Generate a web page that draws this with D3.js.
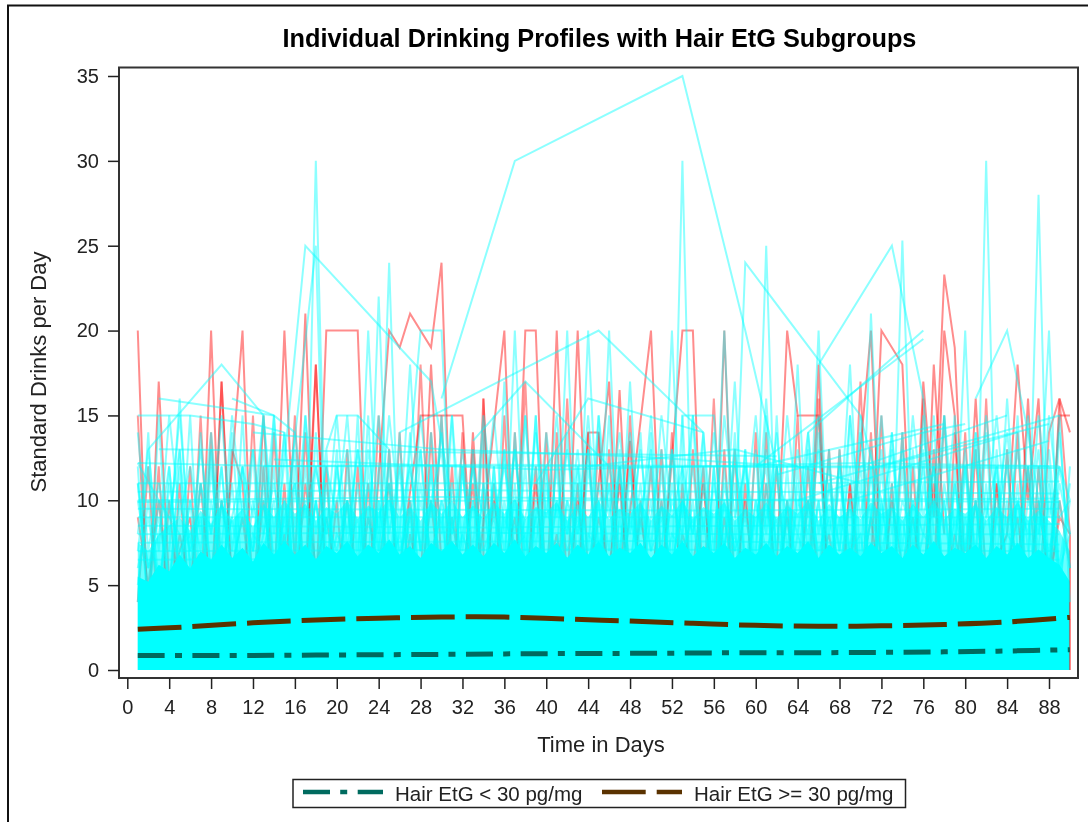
<!DOCTYPE html>
<html>
<head>
<meta charset="utf-8">
<script src="https://cdn.jsdelivr.net/npm/d3@7"></script>
<style>
    html, body { margin: 0; padding: 0; background: #fff; }
    svg { display: block; filter: blur(0.45px); }
    text { font-family: "Liberation Sans", Arial, sans-serif; fill: #222; }
</style>
</head>
<body>
<div id="chart"></div>
<script>
// axis ticks
const xTicks = [0, 4, 8, 12, 16, 20, 24, 28, 32, 36, 40, 44, 48, 52, 56, 60, 64, 68, 72, 76, 80, 84, 88];
const yTicks = [0, 5, 10, 15, 20, 25, 30, 35];

// smoothed group means
const meanDays = [1, 6, 12, 18, 24, 30, 36, 42, 48, 54, 60, 66, 72, 78, 84, 90];
const meanLow = [0.85, 0.85, 0.86, 0.88, 0.9, 0.92, 0.95, 0.97, 0.98, 1.0, 1.02, 1.02, 1.04, 1.07, 1.12, 1.2];
const meanHigh = [2.4, 2.55, 2.78, 2.95, 3.05, 3.12, 3.12, 3.0, 2.88, 2.75, 2.63, 2.58, 2.6, 2.68, 2.83, 3.1];

// top of the fully overplotted cyan mass, day 1 to 90
const solidTop = [
    5.5, 5.2, 6.2, 5.8, 6.8, 6, 7, 6.5, 7.4, 6.6,
    7.2, 6.4, 7.5, 6.8, 7.6, 6.8, 7.4, 6.5, 7.3, 6.9,
    7.6, 6.7, 7.4, 6.9, 7.7, 6.8, 7.3, 6.6, 7.5, 7,
    7.6, 6.8, 7.4, 6.7, 7.5, 6.9, 7.7, 6.7, 7.3, 6.9,
    7.5, 6.6, 7.4, 6.8, 7.6, 6.7, 7.2, 6.9, 7.5, 6.6,
    7.4, 6.8, 7.6, 6.7, 7.3, 6.9, 7.5, 6.6, 7.2, 6.8,
    7.5, 6.7, 7.3, 6.9, 7.6, 6.6, 7.4, 6.8, 7.2, 6.7,
    7.5, 6.9, 7.3, 6.6, 7.4, 6.8, 7.6, 6.7, 7.2, 6.9,
    7.4, 6.6, 7.3, 6.8, 7.5, 6.6, 7.1, 6.6, 6.2, 5.2
];

// upper edge of the nearly filled part above it
const hazeTop = [
    7.5, 7, 8, 8.5, 9, 8.2, 9.4, 8.6, 9.8, 8.8,
    9.5, 8.4, 9.8, 9, 10, 9.2, 9.8, 8.8, 9.6, 9.2,
    10, 8.9, 9.7, 9.3, 10.1, 9, 9.6, 8.8, 9.9, 9.2,
    10, 9, 9.7, 8.9, 9.9, 9.2, 10.1, 8.9, 9.6, 9.3,
    9.9, 8.8, 9.8, 9, 10, 8.9, 9.5, 9.2, 9.9, 8.8,
    9.7, 9.1, 10, 8.9, 9.6, 9.2, 9.9, 8.8, 9.5, 9,
    9.9, 8.9, 9.7, 9.2, 10, 8.8, 9.8, 9, 9.5, 8.9,
    9.9, 9.2, 9.6, 8.8, 9.8, 9, 10, 8.9, 9.5, 9.2,
    9.8, 8.8, 9.6, 9, 9.9, 8.8, 9.4, 8.8, 8.2, 7
];

// red profiles, [day, drinks] pairs read from the tall peaks
const redProfiles = [
    [[1, 20], [2, 2], [3, 17], [4, 5], [6, 9], [7, 3], [8, 20], [9, 4], [11, 20], [12, 3], [13, 15], [14, 4], [15, 20], [16, 6], [17, 21], [18, 4], [19, 20], [22, 20], [23, 3], [25, 20], [26, 19], [27, 21], [29, 19], [30, 24], [31, 5], [33, 3], [36, 20], [37, 4], [38, 20], [39, 20], [40, 3], [41, 20], [42, 4], [43, 20], [44, 5], [46, 17], [47, 4], [50, 20], [51, 5], [53, 20], [54, 20], [55, 3]],
    [[56, 3], [57, 20], [58, 4], [60, 5], [62, 6], [63, 20], [64, 15], [66, 15], [67, 4], [69, 6], [71, 20], [72, 5]],
    [[71, 6], [72, 20], [74, 18], [75, 4], [76, 17], [77, 9], [78, 23.3], [79, 19], [80, 5], [81, 16], [82, 5], [84, 8], [85, 18], [86, 10], [87, 16], [88, 3], [89, 16], [90, 14]],
    [[26, 6], [28, 15], [32, 15], [33, 5]],
    [[28, 5], [29, 18], [30, 6]],
    [[8, 4], [9, 17], [10, 5]],
    [[17, 5], [18, 18], [19, 4]],
    [[43, 5], [44, 14], [45, 14], [46, 4], [47, 16.5], [48, 4]],
    [[47, 5], [48, 13.5], [49, 3]],
    [[65, 4], [66, 18], [67, 3]],
    [[76, 3], [77, 18], [78, 8]],
    [[77, 5], [78, 20], [79, 15], [80, 3]],
    [[85, 5], [86, 16], [87, 4]],
    [[88, 5], [89, 15], [90, 15]],
    [[32, 3], [33, 14], [34, 4], [34, 16], [35, 3]]
];

// red zigzag profiles, one value per day
const redRows = [
    [15, 3, 12, 2, 11, 3, 15, 2, 17, 4,
     3, 15, 2, 14, 4, 15, 3, 18, 4, 10,
     2, 12, 3, 15, 2, 14, 3, 18, 4, 15,
     2, 14, 3, 16, 2, 15, 4, 17, 2, 14,
     3, 16, 4, 14, 3, 13, 2, 15, 4, 12,
     3, 14, 2, 13, 4, 16, 3, 13, 2, 14,
     3, 12, 4, 15, 2, 16, 3, 13, 4, 17,
     2, 15, 3, 14, 2, 16, 4, 15, 3, 14,
     2, 16, 3, 13, 4, 12, 3, 14, 16, 8],
    [4, 12, 2, 10, 3, 12, 2, 14, 3, 13,
     11, 2, 12, 3, 11, 2, 14, 3, 12, 2,
     13, 3, 11, 2, 13, 3, 10, 2, 14, 3,
     12, 2, 13, 3, 11, 2, 14, 4, 12, 2,
     14, 3, 11, 2, 14, 2, 12, 3, 10, 3,
     13, 2, 11, 3, 12, 2, 13, 3, 11, 2,
     14, 3, 10, 2, 12, 4, 13, 2, 11, 3,
     14, 3, 11, 2, 12, 3, 13, 2, 14, 3,
     13, 2, 11, 3, 14, 2, 12, 4, 10, 6],
    [9, 5, 10, 4, 8, 5, 11, 4, 10, 6,
     9, 4, 10, 5, 8, 4, 11, 6, 9, 5,
     10, 4, 9, 6, 11, 4, 8, 5, 10, 4,
     9, 5, 11, 4, 10, 6, 9, 4, 11, 5,
     8, 4, 10, 5, 9, 6, 11, 4, 9, 5,
     10, 4, 8, 6, 11, 4, 9, 5, 10, 4,
     11, 5, 9, 4, 10, 6, 8, 4, 11, 5,
     9, 4, 10, 6, 9, 5, 11, 4, 8, 5,
     10, 4, 11, 6, 9, 4, 10, 5, 9, 8]
];

// red still showing over the mass at the last day
const redLastDay = [[90, 8], [90, 0]];

// cyan profiles, [day, drinks] pairs: long slopes and tall single peaks
const cyanProfiles = [
    [[30, 16], [37, 30], [53, 35], [59, 20], [62, 12], [64, 6]],
    [[52, 5], [53, 30], [54, 4]],
    [[17, 4], [18, 30], [19, 6]],
    [[14, 6], [17, 25], [29, 17], [31, 10]],
    [[15, 8], [18, 25], [19, 4]],
    [[24, 6], [25, 24], [26, 5]],
    [[23, 5], [24, 22], [25, 6]],
    [[81, 4], [82, 30], [83, 5]],
    [[86, 5], [87, 28], [88, 4]],
    [[58, 8], [59, 24], [70, 15], [72, 10]],
    [[60, 6], [61, 25], [62, 5]],
    [[66, 18], [73, 25], [76, 16], [77, 8]],
    [[73, 5], [74, 25.3], [75, 7]],
    [[65, 14], [76, 20]],
    [[60, 12], [76, 19.5]],
    [[81, 16], [84, 20], [86, 14], [88, 6]],
    [[87, 8], [88, 20], [89, 4]],
    [[79, 6], [80, 20], [81, 4]],
    [[70, 5], [71, 21], [72, 7]],
    [[65, 6], [66, 20], [67, 5]],
    [[63, 5], [64, 18], [65, 6]],
    [[26, 14], [45, 20], [55, 14]],
    [[33, 13.5], [38, 17], [46, 12]],
    [[39, 11], [44, 16], [55, 14]],
    [[26, 6], [28, 20], [30, 20], [31, 6]],
    [[36, 5], [37, 20], [38, 6], [39, 15], [40, 5]],
    [[41, 6], [42, 20], [43, 5], [44, 20], [45, 7]],
    [[45, 5], [46, 20], [47, 6]],
    [[51, 6], [52, 20], [53, 5], [53, 15], [56, 15], [57, 6]],
    [[22, 6], [23, 20], [24, 7]],
    [[26, 8], [27, 18], [28, 7]],
    [[56, 6], [57, 20], [58, 5]],
    [[57, 7], [58, 17], [59, 6]],
    [[60, 7], [61, 16], [62, 6]],
    [[35, 5], [36, 17], [37, 6]],
    [[47, 6], [48, 17], [49, 6]],
    [[68, 8], [69, 18], [70, 6]],
    [[75, 6], [76, 15], [77, 6]],
    [[83, 6], [84, 16], [85, 7]],
    [[88, 6], [89, 15], [90, 4]],
    [[4, 7], [5, 16], [6, 6]],
    [[12, 7], [13, 15], [14, 6]],
    [[2, 13], [9, 18], [13, 15]],
    [[3, 16], [14, 15], [16, 14]],
    [[10, 16], [14, 15]],
    [[1, 15], [6, 15], [12, 14.5], [15, 14]],
    [[19, 13], [20, 15], [22, 15], [25, 13]],
    [[1, 12.2], [3, 10], [5, 8]],
    [[1, 10], [30, 10.2], [60, 10], [89, 9.9]],
    [[1, 9.9], [45, 10], [89, 10.1]],
    [[1, 12.2], [15, 12], [40, 12], [89, 11.9]],
    [[13, 12], [35, 12.1], [62, 12], [88, 12]],
    [[14, 12.4], [40, 11.8], [70, 12.2], [89, 12]],
    [[3, 13], [34, 12.8], [62, 12.6]],
    [[12, 14], [30, 13], [48, 12.6], [64, 12]],
    [[66, 11], [89, 15]],
    [[70, 12], [84, 15]],
    [[72, 12], [88, 14.5]],
    [[62, 11.5], [76, 14], [80, 14.5]],
    [[60, 12], [78, 14.5]],
    [[64, 10], [85, 14]],
    [[69, 10], [88, 13.5]],
    [[44, 12], [58, 13], [70, 11]],
    [[1, 8], [30, 8.1], [60, 8], [89, 8]],
    [[1, 9], [40, 9], [89, 9]],
    [[1, 7], [45, 7.1], [89, 7]],
    [[1, 7.5], [50, 7.6], [89, 7.4]],
    [[1, 8.5], [35, 8.4], [89, 8.6]],
    [[1, 9.5], [55, 9.4], [89, 9.5]],
    [[1, 6.5], [40, 6.6], [89, 6.5]],
    [[1, 10.5], [30, 10.6], [89, 10.4]],
    [[1, 11], [60, 11], [89, 11.1]]
];

// cyan zigzag profiles, one value per day
const cyanRows = [
    [12, 3, 15, 4, 13, 3, 14, 5, 12, 4,
     15, 3, 12, 4, 14, 3, 15, 5, 13, 3,
     12, 4, 15, 3, 13, 5, 14, 3, 12, 4,
     15, 3, 13, 4, 12, 3, 14, 5, 15, 3,
     13, 4, 12, 3, 15, 4, 13, 5, 14, 3,
     12, 4, 15, 3, 14, 4, 12, 5, 13, 3,
     15, 4, 12, 3, 14, 5, 13, 3, 15, 4,
     12, 3, 14, 5, 13, 4, 15, 3, 12, 4,
     14, 3, 13, 5, 15, 3, 12, 4, 14, 6],
    [4, 14, 3, 12, 5, 15, 4, 13, 3, 14,
     5, 13, 3, 15, 4, 12, 3, 14, 5, 13,
     4, 15, 3, 12, 5, 14, 3, 13, 4, 15,
     3, 12, 5, 14, 4, 13, 3, 15, 5, 12,
     3, 14, 4, 13, 5, 15, 3, 12, 4, 14,
     3, 13, 5, 15, 4, 12, 3, 14, 5, 13,
     3, 15, 4, 12, 5, 14, 3, 13, 4, 15,
     3, 12, 5, 14, 4, 13, 3, 15, 5, 12,
     3, 14, 4, 13, 3, 15, 5, 12, 4, 12],
    [11, 4, 10, 5, 12, 3, 11, 6, 10, 4,
     12, 5, 11, 3, 10, 6, 12, 4, 11, 5,
     10, 3, 12, 6, 11, 4, 10, 5, 12, 3,
     11, 6, 10, 4, 12, 5, 11, 3, 10, 6,
     12, 4, 11, 5, 10, 3, 12, 6, 11, 4,
     10, 5, 12, 3, 11, 6, 10, 4, 12, 5,
     11, 3, 10, 6, 12, 4, 11, 5, 10, 3,
     12, 6, 11, 4, 10, 5, 12, 3, 11, 6,
     10, 4, 12, 5, 11, 3, 10, 6, 12, 8],
    [5, 10, 4, 11, 6, 10, 3, 12, 5, 11,
     4, 10, 6, 12, 3, 11, 5, 10, 4, 12,
     6, 11, 3, 10, 5, 12, 4, 11, 6, 10,
     3, 12, 5, 11, 4, 10, 6, 12, 3, 11,
     5, 10, 4, 12, 6, 11, 3, 10, 5, 12,
     4, 11, 6, 10, 3, 12, 5, 11, 4, 10,
     6, 12, 3, 11, 5, 10, 4, 12, 6, 11,
     3, 10, 5, 12, 4, 11, 6, 10, 3, 12,
     5, 11, 4, 10, 6, 12, 3, 11, 5, 10],
    [10, 6, 9, 5, 10, 7, 9, 4, 10, 6,
     9, 7, 10, 5, 9, 6, 10, 4, 9, 7,
     10, 5, 9, 6, 10, 7, 9, 4, 10, 6,
     9, 5, 10, 7, 9, 6, 10, 4, 9, 5,
     10, 7, 9, 6, 10, 4, 9, 5, 10, 7,
     9, 6, 10, 5, 9, 4, 10, 7, 9, 6,
     10, 5, 9, 4, 10, 7, 9, 6, 10, 5,
     9, 7, 10, 4, 9, 6, 10, 5, 9, 7,
     10, 4, 9, 6, 10, 5, 9, 7, 10, 6],
    [6, 9, 5, 10, 7, 8, 4, 10, 6, 9,
     5, 8, 7, 10, 4, 9, 6, 10, 5, 8,
     7, 9, 4, 10, 6, 8, 5, 10, 7, 9,
     4, 8, 6, 10, 5, 9, 7, 8, 4, 10,
     6, 9, 5, 8, 7, 10, 4, 9, 6, 10,
     5, 8, 7, 9, 4, 10, 6, 8, 5, 10,
     7, 9, 4, 8, 6, 10, 5, 9, 7, 8,
     4, 10, 6, 9, 5, 8, 7, 10, 4, 9,
     6, 10, 5, 8, 7, 9, 4, 10, 6, 8],
    [11, 6, 8, 12, 5, 10, 7, 13, 6, 9,
     12, 5, 8, 11, 7, 13, 5, 10, 6, 12,
     8, 13, 6, 9, 11, 5, 12, 7, 10, 13,
     6, 8, 12, 5, 11, 7, 13, 6, 9, 12,
     5, 10, 8, 13, 6, 11, 7, 12, 5, 9,
     13, 6, 10, 8, 12, 5, 11, 7, 13, 6,
     9, 12, 5, 10, 8, 13, 6, 11, 7, 12,
     5, 9, 13, 6, 10, 8, 12, 5, 11, 7,
     13, 6, 9, 12, 5, 10, 8, 13, 6, 11],
    [7, 12, 5, 9, 13, 6, 11, 8, 12, 5,
     10, 7, 13, 6, 9, 11, 5, 12, 8, 10,
     13, 6, 11, 7, 12, 5, 9, 13, 6, 10,
     8, 12, 5, 11, 7, 13, 6, 9, 12, 5,
     10, 8, 13, 6, 11, 7, 12, 5, 9, 13,
     6, 10, 8, 12, 5, 11, 7, 13, 6, 9,
     12, 5, 10, 8, 13, 6, 11, 7, 12, 5,
     9, 13, 6, 10, 8, 12, 5, 11, 7, 13,
     6, 9, 12, 5, 10, 8, 13, 6, 11, 8],
    [14, 7, 11, 8, 15, 7, 13, 8, 15, 7,
     12, 9, 15, 8, 14, 7, 15, 8, 12, 9,
     15, 7, 13, 8, 15, 9, 12, 7, 14, 8,
     15, 7, 12, 9, 15, 8, 13, 7, 14, 9,
     15, 8, 12, 7, 15, 9, 14, 8, 13, 7,
     15, 9, 12, 8, 14, 7, 15, 9, 12, 8,
     13, 7, 15, 9, 14, 8, 12, 7, 15, 9,
     13, 8, 14, 7, 15, 9, 12, 8, 15, 7,
     14, 9, 15, 8, 13, 7, 15, 9, 12, 10],
    [8, 13, 7, 15, 9, 12, 8, 14, 7, 15,
     9, 13, 8, 15, 7, 14, 9, 12, 8, 15,
     7, 13, 9, 15, 8, 12, 7, 15, 9, 14,
     8, 13, 7, 15, 9, 12, 8, 15, 7, 14,
     9, 13, 8, 15, 7, 12, 9, 14, 8, 15,
     7, 13, 9, 15, 8, 14, 7, 12, 9, 15,
     8, 14, 7, 13, 9, 15, 8, 12, 7, 14,
     9, 15, 8, 13, 7, 14, 9, 15, 8, 12,
     7, 15, 9, 14, 8, 12, 7, 15, 9, 10]
];

const margin = {top: 67.5, left: 119};
const width = 1088, height = 822;
const lineWidth = 2;

const svg = d3.select("#chart").append("svg")
    .attr("width", width)
    .attr("height", height);

// outer frame, open on the right and at the bottom
svg.append("path")
    .attr("d", `M8,${height}V5.5H${width}`)
    .attr("fill", "none")
    .attr("stroke", "#111")
    .attr("stroke-width", 2);

const x = d3.scaleLinear().domain([0, 88]).range([127.3, 1049]);
const y = d3.scaleLinear().domain([0, 35]).range([670, 76]);

const pairLine = d3.line().x(d => x(d[0])).y(d => y(d[1]));
const rowLine = d3.line().x((d, i) => x(i + 1)).y(d => y(d));
const massArea = d3.area().x((d, i) => x(i + 1)).y0(y(0)).y1(d => y(d));

const plot = svg.append("g");

function drawProfiles(cls, rows, path, color, opacity) {
    plot.selectAll("." + cls).data(rows).enter().append("path")
        .attr("class", cls)
        .attr("d", path)
        .attr("fill", "none")
        .attr("stroke", color)
        .attr("stroke-opacity", opacity)
        .attr("stroke-width", lineWidth);
}

// red group goes underneath
drawProfiles("red-row", redRows, rowLine, "#ff0000", 0.4);
drawProfiles("red-pair", redProfiles, pairLine, "#ff0000", 0.45);

// overplotted part of the cyan group
plot.append("path").datum(hazeTop)
    .attr("d", massArea)
    .attr("fill", "#00ffff").attr("fill-opacity", 0.6);
plot.append("path").datum(solidTop)
    .attr("d", massArea)
    .attr("fill", "#00ffff");

drawProfiles("red-last", [redLastDay], pairLine, "#ff0000", 0.5);
drawProfiles("cyan-row", cyanRows, rowLine, "#00ffff", 0.45);
drawProfiles("cyan-pair", cyanProfiles, pairLine, "#00ffff", 0.45);

// group means
const meanLine = d3.line()
    .x((d, i) => x(meanDays[i]))
    .y(d => y(d))
    .curve(d3.curveCatmullRom);

plot.append("path").datum(meanLow)
    .attr("d", meanLine)
    .attr("fill", "none").attr("stroke", "#006b5f").attr("stroke-width", 5)
    .attr("stroke-dasharray", "27,10.2,7,10.5");
plot.append("path").datum(meanHigh)
    .attr("d", meanLine)
    .attr("fill", "none").attr("stroke", "#5a3200").attr("stroke-width", 5)
    .attr("stroke-dasharray", "43.7,11");

// plot box
svg.append("rect")
    .attr("x", margin.left).attr("y", margin.top)
    .attr("width", 1078 - margin.left).attr("height", 678 - margin.top)
    .attr("fill", "none").attr("stroke", "#333").attr("stroke-width", 2);

// axes
const xAxis = svg.append("g")
    .attr("transform", "translate(0,678)")
    .call(d3.axisBottom(x).tickValues(xTicks).tickSize(11).tickPadding(11));
const yAxis = svg.append("g")
    .attr("transform", `translate(${margin.left},0)`)
    .call(d3.axisLeft(y).tickValues(yTicks).tickSize(11).tickPadding(9));

[xAxis, yAxis].forEach(a => {
    a.select(".domain").remove();
    a.selectAll("line").attr("stroke", "#222").attr("stroke-width", 1.5);
    a.selectAll("text").style("font-size", "20px").style("fill", "#222");
});

// titles
svg.append("text")
    .attr("x", 599.5).attr("y", 47)
    .attr("text-anchor", "middle")
    .style("font-size", "25.3px").style("font-weight", "bold").style("fill", "#000")
    .text("Individual Drinking Profiles with Hair EtG Subgroups");
svg.append("text")
    .attr("x", 601).attr("y", 752)
    .attr("text-anchor", "middle")
    .style("font-size", "22px")
    .text("Time in Days");
svg.append("text")
    .attr("transform", "translate(46,372) rotate(-90)")
    .attr("text-anchor", "middle")
    .style("font-size", "22px")
    .text("Standard Drinks per Day");

// legend
const legend = svg.append("g");
legend.append("rect")
    .attr("x", 293).attr("y", 779.5).attr("width", 612.5).attr("height", 28)
    .attr("fill", "none").attr("stroke", "#222").attr("stroke-width", 1.5);
legend.append("line")
    .attr("x1", 303).attr("x2", 383).attr("y1", 792).attr("y2", 792)
    .attr("stroke", "#006b5f").attr("stroke-width", 4.5)
    .attr("stroke-dasharray", "27,10.2,7,10.5");
legend.append("text")
    .attr("x", 395).attr("y", 800.5)
    .style("font-size", "20.5px")
    .text("Hair EtG < 30 pg/mg");
legend.append("line")
    .attr("x1", 602).attr("x2", 682).attr("y1", 792).attr("y2", 792)
    .attr("stroke", "#5a3200").attr("stroke-width", 4.5)
    .attr("stroke-dasharray", "43.7,11");
legend.append("text")
    .attr("x", 694).attr("y", 800.5)
    .style("font-size", "20.5px")
    .text("Hair EtG >= 30 pg/mg");
</script>
</body>
</html>
